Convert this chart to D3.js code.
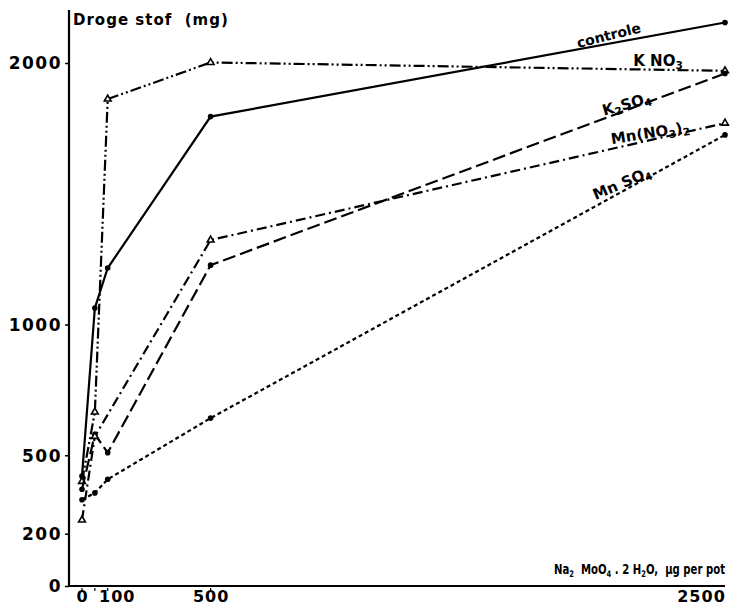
<!DOCTYPE html>
<html><head><meta charset="utf-8">
<script src="https://cdn.jsdelivr.net/npm/d3@7/dist/d3.min.js"></script>
<style>
body{margin:0;background:#fff;}
text{font-family:"DejaVu Sans",sans-serif;fill:#000;}
</style></head>
<body><svg id="c" width="732" height="609"></svg>
<script>
const doses = [0, 50, 100, 500, 2500];
const xTickValues = [0, 100, 500, 2500];
const xMinorTicks = [0, 50, 100, 500];
const yTickValues = [0, 200, 500, 1000, 2000];
const controle = [420, 1063, 1216, 1795, 2155];
const kno3 = [400, 665, 1862, 2002, 1970];
const k2so4 = [370, 580, 510, 1227, 1960];
const mnno3 = [252, 572, null, 1323, 1770];
const mnso4 = [330, 356, 408, 642, 1725];
const seriesNames = ["controle", "KNO3", "K2SO4", "Mn(NO3)2", "MnSO4"];

const svg = d3.select("#c");
const x = d3.scaleLinear().domain([0, 2500]).range([82, 725]);
const y = d3.scaleLinear().domain([0, 2000]).range([586, 63]);
const axX = 69;

// axes lines
svg.append("line").attr("x1", axX).attr("x2", axX).attr("y1", y(0)).attr("y2", 10)
  .attr("stroke", "#000").attr("stroke-width", 2.2);
svg.append("line").attr("x1", axX).attr("x2", 725).attr("y1", y(0)).attr("y2", y(0))
  .attr("stroke", "#000").attr("stroke-width", 2.2);

// y axis ticks
const gy = svg.append("g").attr("transform", `translate(${axX},0)`)
  .call(d3.axisLeft(y).tickValues(yTickValues).tickSize(4).tickPadding(3).tickFormat(d3.format("d")));
gy.select(".domain").remove();
gy.selectAll(".tick line").attr("stroke-width", 1.5);
gy.selectAll(".tick text").style("font-size", "17px").style("font-weight", "bold")
  .style("letter-spacing", "1.5px").attr("dy", "0.35em");

// x axis
const gx = svg.append("g").attr("transform", `translate(0,${y(0)})`)
  .call(d3.axisBottom(x).tickValues(xTickValues).tickSize(0).tickPadding(5).tickFormat(d3.format("d")));
gx.select(".domain").remove();
gx.selectAll(".tick text").style("font-size", "16px").style("font-weight", "bold")
  .style("letter-spacing", "1px")
  .attr("dx", d => d === 100 ? 9 : d === 2500 ? -24 : 0);
svg.append("g").selectAll("line").data(xMinorTicks).join("line")
  .attr("x1", d => x(d)).attr("x2", d => x(d)).attr("y1", y(0) + 2).attr("y2", y(0) + 5)
  .attr("stroke", "#000").attr("stroke-width", 1.2);

// series
const series = [
  {vals: controle, dash: null, marker: "circle"},
  {vals: kno3, dash: "11,3,2,3,2,3", marker: "triangle"},
  {vals: k2so4, dash: "13,5", marker: "circle"},
  {vals: mnno3, dash: "10,4,2,4", marker: "triangle"},
  {vals: mnso4, dash: "4,3", marker: "circle"}
];
const line = d3.line().x(d => x(d[0])).y(d => y(d[1]));
series.forEach(s => {
  const pts = doses.map((d, i) => [d, s.vals[i]]).filter(p => p[1] != null);
  svg.append("path").datum(pts).attr("d", line).attr("fill", "none")
    .attr("stroke", "#000").attr("stroke-width", 2.2)
    .attr("stroke-dasharray", s.dash);
  if (s.marker === "circle") {
    svg.append("g").selectAll("circle").data(pts).join("circle")
      .attr("cx", d => x(d[0])).attr("cy", d => y(d[1])).attr("r", 2.8).attr("fill", "#000");
  } else {
    svg.append("g").selectAll("path").data(pts).join("path")
      .attr("d", d3.symbol(d3.symbolTriangle, 20))
      .attr("transform", d => `translate(${x(d[0])},${y(d[1])})`)
      .attr("fill", "#fff").attr("stroke", "#000").attr("stroke-width", 1.6);
  }
});

// titles
svg.append("text").attr("x", 73).attr("y", 25).style("font-size", "15px").style("font-weight", "bold")
  .style("letter-spacing", "1px").attr("xml:space", "preserve").text("Droge stof  (mg)");

const xt = svg.append("text").attr("transform", "translate(725,574) scale(0.75,1)").attr("text-anchor", "end")
  .style("font-size", "13.5px").style("font-weight", "bold").attr("xml:space", "preserve");
xt.append("tspan").text("Na");
xt.append("tspan").attr("dy", 3).style("font-size", "9px").text("2");
xt.append("tspan").attr("dy", -3).text("  MoO");
xt.append("tspan").attr("dy", 3).style("font-size", "9px").text("4");
xt.append("tspan").attr("dy", -3).text(" . 2 H");
xt.append("tspan").attr("dy", 3).style("font-size", "9px").text("2");
xt.append("tspan").attr("dy", -3).text("O,  µg per pot");

// series labels
function label(cx, cy, angle, parts, size) {
  const t = svg.append("text").attr("transform", `translate(${cx},${cy}) rotate(${angle})`)
    .attr("text-anchor", "middle").style("font-size", size + "px").style("font-weight", "bold");
  parts.forEach(p => {
    if (p.sub) t.append("tspan").attr("dy", 3).style("font-size", (size * 0.7) + "px").text(p.t);
    else if (p.after) t.append("tspan").attr("dy", -3).text(p.t);
    else t.append("tspan").text(p.t);
  });
}
label(610, 40, -14, [{t: "controle"}], 14);
label(658, 66, 0, [{t: "K NO"}, {t: "3", sub: true}], 15);
label(628, 109, -16, [{t: "K"}, {t: "2", sub: true}, {t: "SO", after: true}, {t: "4", sub: true}], 15);
label(651, 138, -9, [{t: "Mn(NO"}, {t: "3", sub: true}, {t: ")", after: true}, {t: "2", sub: true}], 15);
label(624, 188, -23, [{t: "Mn SO"}, {t: "4", sub: true}], 15);
</script></body></html>
